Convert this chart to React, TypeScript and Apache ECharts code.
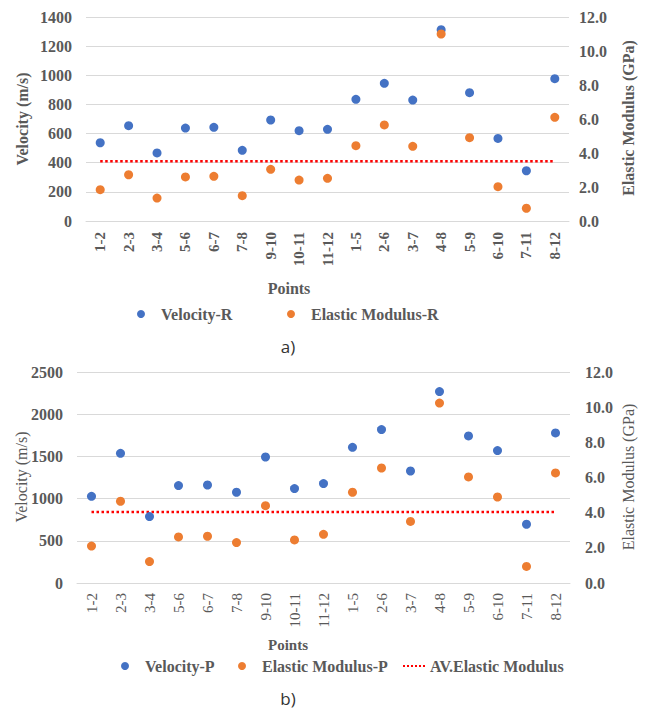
import React, { useEffect, useRef } from "react";
import * as echarts from "echarts";

const categories = ["1-2", "2-3", "3-4", "5-6", "6-7", "7-8", "9-10", "10-11", "11-12", "1-5", "2-6", "3-7", "4-8", "5-9", "6-10", "7-11", "8-12"];

const velocityR = [537, 654, 467, 638, 643, 485, 693, 620, 629, 835, 945, 830, 1313, 881, 567, 345, 977];
const modulusR = [1.84, 2.72, 1.35, 2.59, 2.63, 1.49, 3.04, 2.41, 2.51, 4.43, 5.65, 4.39, 11.0, 4.9, 2.02, 0.75, 6.1];
const avModulusR = 3.51;

const velocityP = [1027, 1537, 787, 1154, 1161, 1075, 1493, 1119, 1178, 1608, 1818, 1327, 2268, 1742, 1569, 696, 1778];
const modulusP = [2.1, 4.65, 1.22, 2.62, 2.66, 2.3, 4.4, 2.45, 2.77, 5.16, 6.54, 3.5, 10.23, 6.03, 4.89, 0.94, 6.26];
const avModulusP = 4.04;

const BLUE = "#4472C4";
const ORANGE = "#ED7D31";
const RED = "#FF0000";
const GRAY = "#595959";
const GRID = "#D9D9D9";
const SERIF = "Liberation Serif";

export default function App() {
  const ref = useRef<HTMLDivElement>(null);
  useEffect(() => {
    if (!ref.current) return;
    const chart = echarts.init(ref.current, null, { renderer: "svg" });

    const xAxisBase = (gridIndex: number, bold: boolean, margin: number) => ({
      type: "category",
      gridIndex,
      data: categories,
      boundaryGap: true,
      axisTick: { show: false },
      axisLine: { show: true, lineStyle: { color: GRID, width: 1 } },
      axisLabel: {
        rotate: 90,
        interval: 0,
        margin,
        color: GRAY,
        fontFamily: SERIF,
        fontSize: 15,
        fontWeight: bold ? "bold" : "normal",
      },
    });

    const leftAxis = (gridIndex: number, max: number, interval: number, margin: number) => ({
      type: "value",
      gridIndex,
      min: 0,
      max,
      interval,
      position: "left",
      axisLine: { show: false },
      axisTick: { show: false },
      splitLine: { show: true, lineStyle: { color: GRID, width: 1 } },
      axisLabel: {
        margin,
        color: GRAY,
        fontFamily: SERIF,
        fontSize: 16,
        fontWeight: "bold",
        formatter: (v: number) => String(v),
      },
    });

    const rightAxis = (gridIndex: number, margin: number) => ({
      type: "value",
      gridIndex,
      min: 0,
      max: 12,
      interval: 2,
      position: "right",
      axisLine: { show: false },
      axisTick: { show: false },
      splitLine: { show: false },
      axisLabel: {
        margin,
        color: GRAY,
        fontFamily: SERIF,
        fontSize: 16,
        fontWeight: "bold",
        formatter: (v: number) => v.toFixed(1),
      },
    });

    const legendText = { color: GRAY, fontFamily: SERIF, fontSize: 16, fontWeight: "bold" };
    const mkLegend = (item: any, left: number, top: number, w: number) => ({
      data: [item],
      left,
      top,
      padding: 0,
      itemWidth: w,
      itemHeight: 8,
      itemGap: 5,
      textStyle: legendText,
      selectedMode: false,
    });

    const titleText = (text: string, x: number, y: number, bold: boolean) => ({
      type: "text",
      x,
      y,
      rotation: Math.PI / 2,
      style: {
        text,
        fill: GRAY,
        fontFamily: SERIF,
        fontSize: 16,
        fontWeight: bold ? "bold" : "normal",
        align: "center",
        verticalAlign: "middle",
      },
    });

    const plainText = (text: string, x: number, y: number, opts: any) => ({
      type: "text",
      x,
      y,
      style: { text, align: "center", verticalAlign: "middle", ...opts },
    });

    chart.setOption({
      animation: false,
      backgroundColor: "#ffffff",
      grid: [
        { left: 86, right: 76, top: 17, height: 204 },
        { left: 77, right: 75, top: 372, height: 211 },
      ],
      xAxis: [xAxisBase(0, true, 11), xAxisBase(1, false, 10)],
      yAxis: [leftAxis(0, 1400, 200, 14), rightAxis(0, 10), leftAxis(1, 2500, 500, 14), rightAxis(1, 15)],
      legend: [
        mkLegend({ name: "Velocity-R", icon: "circle" }, 137, 306, 30),
        mkLegend({ name: "Elastic Modulus-R", icon: "circle" }, 287, 306, 30),
        mkLegend({ name: "Velocity-P", icon: "circle" }, 121, 658, 30),
        mkLegend({ name: "Elastic Modulus-P", icon: "circle" }, 238, 658, 30),
        mkLegend({ name: "AV.Elastic Modulus", itemStyle: { opacity: 0 } }, 402, 658, 22),
      ],
      graphic: [
        titleText("Velocity (m/s)", 22, 119, true),
        titleText("Elastic Modulus (GPa)", 628, 118, true),
        titleText("Velocity (m/s)", 21, 477, false),
        titleText("Elastic Modulus (GPa)", 628, 477, false),
        plainText("Points", 289, 288, { fill: GRAY, fontFamily: SERIF, fontSize: 16, fontWeight: "bold" }),
        plainText("Points", 288, 645, { fill: GRAY, fontFamily: SERIF, fontSize: 15, fontWeight: "bold" }),
        plainText("a)", 288, 346, { fill: "#333333", fontFamily: "Open Sans", fontSize: 17 }),
        plainText("b)", 288, 698, { fill: "#333333", fontFamily: "Open Sans", fontSize: 17 }),
      ],
      series: [
        {
          name: "AV.Elastic Modulus-R",
          type: "line",
          xAxisIndex: 0,
          yAxisIndex: 1,
          symbol: "none",
          data: [
            [categories[0], avModulusR],
            [categories[categories.length - 1], avModulusR],
          ],
          lineStyle: { color: RED, type: "dotted", width: 2.5 },
          itemStyle: { color: RED },
          z: 1,
        },
        {
          name: "Velocity-R",
          type: "scatter",
          xAxisIndex: 0,
          yAxisIndex: 0,
          data: velocityR,
          symbolSize: 9,
          itemStyle: { color: BLUE, opacity: 1 },
        },
        {
          name: "Elastic Modulus-R",
          type: "scatter",
          xAxisIndex: 0,
          yAxisIndex: 1,
          data: modulusR,
          symbolSize: 9,
          itemStyle: { color: ORANGE, opacity: 1 },
        },
        {
          name: "AV.Elastic Modulus",
          type: "line",
          xAxisIndex: 1,
          yAxisIndex: 3,
          symbol: "none",
          data: [
            [categories[0], avModulusP],
            [categories[categories.length - 1], avModulusP],
          ],
          lineStyle: { color: RED, type: "dotted", width: 2.5 },
          itemStyle: { color: RED },
          z: 1,
        },
        {
          name: "Velocity-P",
          type: "scatter",
          xAxisIndex: 1,
          yAxisIndex: 2,
          data: velocityP,
          symbolSize: 9,
          itemStyle: { color: BLUE, opacity: 1 },
        },
        {
          name: "Elastic Modulus-P",
          type: "scatter",
          xAxisIndex: 1,
          yAxisIndex: 3,
          data: modulusP,
          symbolSize: 9,
          itemStyle: { color: ORANGE, opacity: 1 },
        },
      ],
    });
    return () => chart.dispose();
  }, []);

  return (
    <div
      ref={ref}
      style={{ position: "fixed", left: 0, top: 0, width: 645, height: 709, background: "#fff" }}
    />
  );
}
